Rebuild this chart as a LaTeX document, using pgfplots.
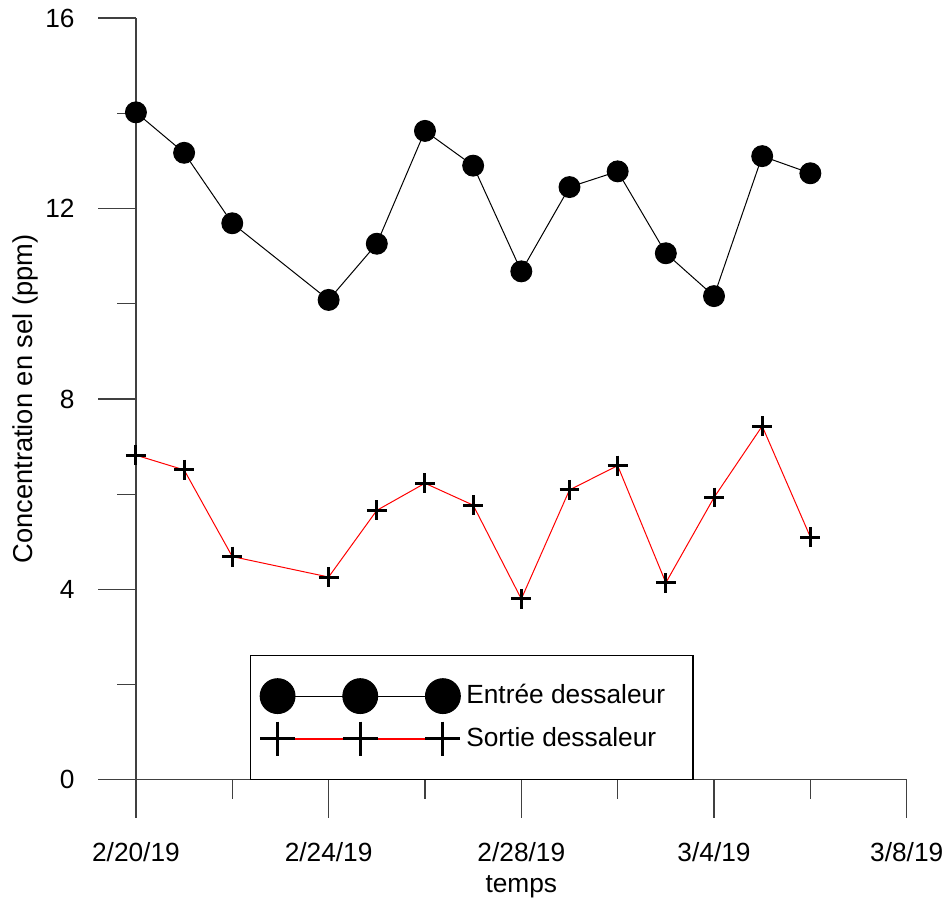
\documentclass[border=0pt]{standalone}
\usepackage{pgfplots}
\pgfplotsset{compat=1.18}
\usepackage{fontspec}
\setmainfont{Liberation Sans}
\begin{document}
\fontsize{13.2}{15.8}\selectfont
\begin{tikzpicture}
\begin{axis}[
  scale only axis, width=387pt, height=382.5pt,
  xmin=0, xmax=16, ymin=0, ymax=16,
  axis x line=bottom, axis y line=left,
  axis line style={-, line width=0.6pt, black!75},
  xtick={0,4,8,12,16},
  xticklabels={2/20/19,2/24/19,2/28/19,3/4/19,3/8/19},
  minor xtick={2,6,10,14},
  ytick={0,4,8,12,16}, minor ytick={2,6,10,14},
  tick align=outside, major tick length=19pt, minor tick length=9.5pt,
  tick style={line width=0.6pt, black!75},
  /pgf/number format/assume math mode=true,
  xticklabel shift=8pt, yticklabel shift=7.2pt,
  xlabel={temps}, ylabel={Concentration en sel (ppm)},
  xlabel style={inner sep=0pt, text depth=3pt}, xlabel shift=2.2pt,
  ylabel style={inner xsep=0pt, inner ysep=6.5pt, font=\fontsize{13.7}{16}\selectfont}, ylabel shift=-7.6pt,
  legend style={at={(axis cs:2.36,0)}, anchor=south west, draw=black,
    line width=0.6pt, inner xsep=5pt, inner ysep=11.5pt, row sep=4pt,
    nodes={inner sep=0pt, anchor=west}, column sep=3pt},
  legend cell align=left,
]
\addplot[black, line width=0.5pt, mark=*, mark size=5.25pt,
  mark options={fill=black, draw=black},
  legend image code/.code={
    \draw[black, line width=0.5pt, mark=*, mark size=8.75pt, mark options={fill=black}]
      plot coordinates {(0pt,0pt) (41.5pt,0pt) (83pt,0pt)};}]
coordinates {(0,14.02)(1,13.17)(2,11.69)(4,10.08)(5,11.26)(6,13.63)(7,12.90)(8,10.68)(9,12.45)(10,12.78)(11,11.06)(12,10.16)(13,13.10)(14,12.74)};
\addlegendentry{Entrée dessaleur\hspace*{9pt}}
\addplot[red, line width=0.5pt, mark=+, mark size=5pt,
  mark options={black, line width=1.5pt},
  legend image code/.code={
    \draw[red, line width=0.6pt] (0pt,0pt) -- (83pt,0pt);
    \draw[black, line width=2.5pt, mark=+, mark size=8.75pt, only marks]
      plot coordinates {(0pt,0pt) (41.5pt,0pt) (83pt,0pt)};}]
coordinates {(0,6.82)(1,6.51)(2,4.69)(4,4.26)(5,5.66)(6,6.23)(7,5.77)(8,3.80)(9,6.09)(10,6.60)(11,4.14)(12,5.93)(13,7.43)(14,5.10)};
\addlegendentry{Sortie dessaleur}
\end{axis}
\end{tikzpicture}
\end{document}
